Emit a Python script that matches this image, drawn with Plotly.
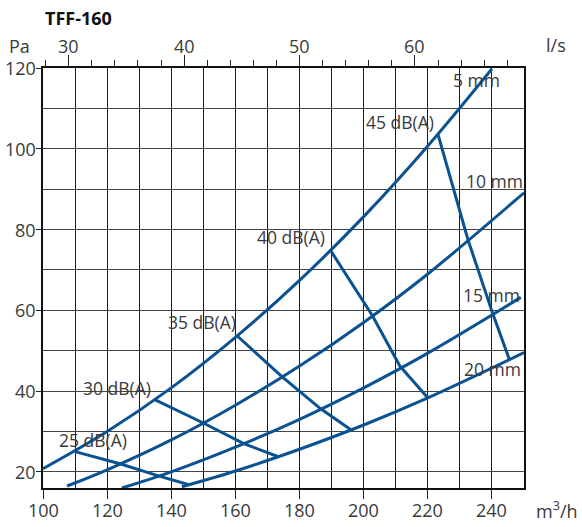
import plotly.graph_objects as go

# Airflow (m3/h) and pressure (Pa)
Q_5MM = [100, 120, 140, 160, 180, 200, 220, 240]
P_5MM = [20.8, 30.0, 40.8, 53.3, 67.4, 83.2, 100.7, 119.8]
Q_10MM = [107.5, 120, 140, 160, 180, 200, 220, 250]
P_10MM = [16.5, 20.5, 27.9, 36.5, 46.2, 57.0, 69.0, 89.1]
Q_15MM = [124.6, 140, 160, 180, 200, 220, 249]
P_15MM = [16.0, 20.0, 26.1, 33.0, 40.8, 49.4, 63.2]
Q_20MM = [143.3, 160, 180, 200, 220, 250]
P_20MM = [16.3, 20.2, 25.6, 31.6, 38.3, 49.5]
CURVE_LABELS = ["5 mm", "10 mm", "15 mm", "20 mm"]

# Sound level lines: crossing points on the 5, 10, 15 and 20 mm curves
Q_25DB = [110, 124, 136, 145.5]
P_25DB = [25.0, 22.0, 19.0, 16.8]
Q_30DB = [135, 150, 162.6, 173.2]
P_30DB = [37.8, 32.1, 27.0, 23.8]
Q_35DB = [160.5, 174.6, 186.6, 195.9]
P_35DB = [53.7, 43.5, 35.6, 30.5]
Q_40DB = [189.7, 202.7, 211.3, 219.9]
P_40DB = [74.8, 58.7, 46.2, 38.4]
Q_45DB = [223.2, 232.6, 240.2, 245.4]
P_45DB = [103.5, 77.3, 59.3, 47.9]
DB_LABELS = ["25 dB(A)", "30 dB(A)", "35 dB(A)", "40 dB(A)", "45 dB(A)"]

# Axis scales and tick labels
Q_RANGE = [100, 250]
P_RANGE = [16, 120]
M3H_PER_LS = 3.6
Q_TICKS = [100, 120, 140, 160, 180, 200, 220, 240]
P_TICKS = [20, 40, 60, 80, 100, 120]
LS_TICKS = [30, 40, 50, 60]

BLUE = "#0a5291"
TEXT = "#3a3a3a"
FONT = "Open Sans"
TICK_FONT = dict(family=FONT, size=18, color=TEXT)

fig = go.Figure()

curves = [(Q_5MM, P_5MM), (Q_10MM, P_10MM), (Q_15MM, P_15MM), (Q_20MM, P_20MM)]
for q, p in curves:
    fig.add_trace(go.Scatter(x=q, y=p, mode="lines", line=dict(color=BLUE, width=3, shape="spline"),
                             hoverinfo="skip", showlegend=False))

db_lines = [(Q_25DB, P_25DB), (Q_30DB, P_30DB), (Q_35DB, P_35DB), (Q_40DB, P_40DB), (Q_45DB, P_45DB)]
for q, p in db_lines:
    fig.add_trace(go.Scatter(x=q, y=p, mode="lines", line=dict(color=BLUE, width=3),
                             hoverinfo="skip", showlegend=False))

# invisible trace so the l/s axis on top is drawn
fig.add_trace(go.Scatter(x=[v / M3H_PER_LS for v in Q_RANGE], y=P_RANGE, xaxis="x2", mode="lines",
                         line=dict(width=0), opacity=0, hoverinfo="skip", showlegend=False))

# curve labels placed relative to the curve end points
curve_shifts = [(-15, -11), (-30, 12), (-29, 2), (-32, -16)]
for (q, p), text, (dx, dy) in zip(curves, CURVE_LABELS, curve_shifts):
    fig.add_annotation(x=q[-1], y=p[-1], text=text, showarrow=False, xanchor="center", yanchor="middle",
                       xshift=dx, yshift=dy, font=dict(family=FONT, size=17.5, color=TEXT))

# sound level labels placed relative to the start of each line
db_shifts = [(18, 12), (-38, 12), (-35, 14), (-40, 14), (-38, 12.5)]
for (q, p), text, (dx, dy) in zip(db_lines, DB_LABELS, db_shifts):
    fig.add_annotation(x=q[0], y=p[0], text=text, showarrow=False, xanchor="center", yanchor="middle",
                       xshift=dx, yshift=dy, font=dict(family=FONT, size=17.5, color=TEXT))

# tick labels set as text so their distance from the axes can be controlled
for v in Q_TICKS:
    fig.add_annotation(x=v, xref="x", yref="paper", y=-0.053, text=str(v), showarrow=False,
                       xanchor="center", yanchor="middle", font=TICK_FONT)
for v in LS_TICKS:
    fig.add_annotation(x=v, xref="x2", yref="paper", y=1.052, text=str(v), showarrow=False,
                       xanchor="center", yanchor="middle", font=TICK_FONT)
for v in P_TICKS:
    fig.add_annotation(x=-0.012, xref="paper", y=v, yref="y", text=str(v), showarrow=False,
                       xanchor="right", yanchor="middle", font=TICK_FONT, borderpad=0)

fig.add_annotation(xref="paper", yref="paper", x=0, y=1.119, text="<b>TFF-160</b>", showarrow=False,
                   xanchor="left", yanchor="middle", font=dict(family=FONT, size=18, color="#111111"))
fig.add_annotation(xref="paper", yref="paper", x=-0.048, y=1.052, text="Pa", showarrow=False,
                   xanchor="center", yanchor="middle", font=TICK_FONT, borderpad=0)
fig.add_annotation(xref="paper", yref="paper", x=1.067, y=1.055, text="l/s", showarrow=False,
                   xanchor="center", yanchor="middle", font=TICK_FONT)
fig.add_annotation(xref="paper", yref="paper", x=1.069, y=-0.053, text="m<sup>3</sup>/h", showarrow=False,
                   xanchor="center", yanchor="middle", font=TICK_FONT)

fig.update_layout(
    width=582, height=527,
    margin=dict(l=43, r=58, t=68, b=39, autoexpand=False),
    paper_bgcolor="white", plot_bgcolor="white",
    font=dict(family=FONT, size=18, color=TEXT),
    xaxis=dict(range=Q_RANGE, tickmode="array", tickvals=Q_TICKS, showticklabels=False,
               ticks="outside", ticklen=9, tickcolor="#222", tickwidth=1.2,
               showgrid=True, gridcolor="#1a1a1a", gridwidth=1.3,
               minor=dict(tickmode="linear", tick0=100, dtick=10, showgrid=True,
                          gridcolor="#1a1a1a", gridwidth=1.3, ticks=""),
               showline=True, linecolor="#111", linewidth=1.6, mirror=True, zeroline=False),
    xaxis2=dict(range=[v / M3H_PER_LS for v in Q_RANGE], overlaying="x", side="top", anchor="y",
                tickmode="array", tickvals=LS_TICKS, showticklabels=False, ticks="outside", ticklen=12,
                tickcolor="#222", tickwidth=1.2, showgrid=False, showline=False, zeroline=False,
                minor=dict(tickmode="linear", tick0=30, dtick=2, ticks="outside", ticklen=7,
                           tickcolor="#222", tickwidth=1.2, showgrid=False)),
    yaxis=dict(range=P_RANGE, tickmode="array", tickvals=P_TICKS, showticklabels=False,
               ticks="outside", ticklen=5, tickcolor="#222", tickwidth=1.2,
               showgrid=True, gridcolor="#444", gridwidth=1.4,
               minor=dict(tickmode="linear", tick0=0, dtick=10, showgrid=True,
                          gridcolor="#444", gridwidth=1.4, ticks=""),
               showline=True, linecolor="#111", linewidth=1.6, mirror=True, zeroline=False),
)

fig.write_html("out.html")
